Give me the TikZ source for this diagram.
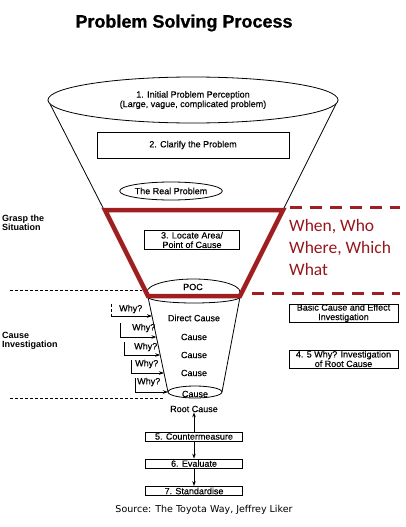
\documentclass[tikz,border=0pt]{standalone}
\usepackage{fontspec}
\setmainfont{Liberation Sans}
\newfontfamily\sm[FakeBold=0.35]{Liberation Sans}
\newfontfamily\titlefont[BoldFeatures={FakeBold=0.8}]{Liberation Sans}
\newfontfamily\calib{Carlito}
\newfontfamily\dejav{DejaVu Sans}
\usetikzlibrary{shapes.geometric,arrows.meta,calc}
\definecolor{dred}{RGB}{158,30,34}
\definecolor{tred}{RGB}{150,22,28}
\tikzset{
  small/.style={font=\sm\fontsize{9}{9.5}\selectfont, inner sep=0pt, align=center},
  thinline/.style={draw=black, line width=0.8pt},
  boxnode/.style={small, thinline, fill=white},
  ellnode/.style={small, thinline, ellipse, fill=white},
  redline/.style={draw=dred, line width=4.5pt, line join=miter},
  reddash/.style={draw=dred, line width=3pt, dash pattern=on 12pt off 8pt},
  blackdash/.style={draw=black, line width=0.8pt, dash pattern=on 3pt off 2pt},
  arr/.style={thinline, -{Stealth[length=5pt,width=3.5pt]}},
  sidelabel/.style={font=\fontsize{9}{9.5}\selectfont\bfseries, align=left, anchor=west, inner sep=0pt},
  whylabel/.style={font=\sm\fontsize{9}{9}\selectfont, anchor=west, inner sep=0pt}
}
\begin{document}
\begin{tikzpicture}[x=1pt,y=-1pt]
\useasboundingbox (0,0) rectangle (405,527);
% title
\node[font=\titlefont\fontsize{18}{20}\selectfont\bfseries, inner sep=0pt] (title) at (184,23) {Problem Solving Process};
% cone coordinates
\coordinate (ul) at (48,100);
\coordinate (ur) at (338,100);
\coordinate (rtl) at (105,210);
\coordinate (rtr) at (283,210);
\coordinate (rbl) at (148,296);
\coordinate (rbr) at (240,296);
\coordinate (cl1) at (148,297);
\coordinate (cr1) at (240,297);
\coordinate (cl2) at (168,392);
\coordinate (cr2) at (222,392);
% upper cone
\draw[thinline] (ul) -- (rbl);
\draw[thinline] (ur) -- (rbr);
% lower cone
\draw[thinline] (148,297) arc[start angle=180, end angle=360, x radius=46, y radius=-6];
\draw[thinline] (cl1) -- (cl2);
\draw[thinline] (cr1) -- (cr2);
% top ellipse
\node[ellnode, minimum width=290pt, minimum height=46pt] (init) at (193,100) {1. Initial Problem Perception\\(Large, vague, complicated problem)};
% clarify
\node[boxnode, minimum width=192pt, minimum height=26pt] (clar) at (193,145) {2. Clarify the Problem};
% real problem
\node[ellnode, minimum width=94pt, minimum height=18pt] (real) at (171,191) {The Real Problem};
% locate
\node[boxnode, minimum width=95pt, minimum height=19pt] (loc) at (192,240) {3. Locate Area/\\Point of Cause};
% POC arc
\draw[thinline] (147,292) arc[start angle=180, end angle=0, x radius=46.5, y radius=-13];
\node[small] (poc) at (193,287) {POC};
% red trapezoid
\draw[redline] (rtl) -- (rtr) -- (rbr) -- (rbl) -- cycle;
% red dashes
\coordinate (d1a) at (290,207); \coordinate (d1b) at (400,207);
\coordinate (d2a) at (252,293); \coordinate (d2b) at (400,293);
\draw[reddash] (d1a) -- (d1b);
\draw[reddash] (d2a) -- (d2b);
\node[font=\calib\fontsize{17.5}{22}\selectfont, text=tred, align=left, anchor=west, inner sep=0pt] (www) at (289,247) {When, Who\\Where, Which\\What};
% black dashes
\coordinate (k1a) at (10,290); \coordinate (k1b) at (142,290);
\coordinate (k2a) at (10,398); \coordinate (k2b) at (165,398);
\draw[blackdash] (k1a) -- (k1b);
\draw[blackdash] (k2a) -- (k2b);
% side labels
\node[sidelabel] (grasp) at (2,223) {Grasp the\\Situation};
\node[sidelabel] (cinv) at (2,341) {Cause\\Investigation};
% causes
\node[small] (dc) at (194,318) {Direct Cause};
\node[small] (c1) at (194,337) {Cause};
\node[small] (c2) at (194,355) {Cause};
\node[small] (c3) at (194,373) {Cause};
\draw[thinline] (195,392) ellipse [x radius=27, y radius=6];
\begin{scope}
\clip (195,392) ellipse [x radius=27, y radius=6];
\node[small] (c4) at (195,394) {Cause};
\end{scope}
% why arrows
\coordinate (w1a) at (111,304); \coordinate (w1b) at (111,316);
\coordinate (w2a) at (120,323); \coordinate (w2b) at (120,337);
\coordinate (w3a) at (124,342); \coordinate (w3b) at (124,355);
\coordinate (w4a) at (131,360); \coordinate (w4b) at (131,373);
\coordinate (w5a) at (135,378); \coordinate (w5b) at (135,392);
\coordinate (e1) at ($(cl1)!0.2!(cl2)$);
\coordinate (e2) at ($(cl1)!0.42!(cl2)$);
\coordinate (e3) at ($(cl1)!0.61!(cl2)$);
\coordinate (e4) at ($(cl1)!0.8!(cl2)$);
\draw[blackdash] (w1a) -- (w1b);
\draw[arr] (w1b) -- (w1b -| e1);
\draw[arr] (w2a) -- (w2b) -- (w2b -| e2);
\draw[arr] (w3a) -- (w3b) -- (w3b -| e3);
\draw[arr] (w4a) -- (w4b) -- (w4b -| e4);
\draw[arr] (w5a) -- (w5b) -- (cl2);
\node[whylabel] (y1) at (119,309) {Why?};
\node[whylabel] (y2) at (132,328) {Why?};
\node[whylabel] (y3) at (134,347) {Why?};
\node[whylabel] (y4) at (135,364) {Why?};
\node[whylabel] (y5) at (137,382) {Why?};
% right boxes
\node[boxnode, minimum width=109pt, minimum height=18pt] (basic) at (343.5,313) {Basic Cause and Effect\\Investigation};
\node[boxnode, minimum width=109pt, minimum height=18pt] (five) at (343.5,359) {4. 5 Why? Investigation\\of Root Cause};
% bottom
\node[small] (root) at (194,409) {Root Cause};
\node[boxnode, minimum width=97pt, minimum height=9pt] (b5) at (194,436.5) {5. Countermeasure};
\node[boxnode, minimum width=97pt, minimum height=9pt] (b6) at (194,463.5) {6. Evaluate};
\node[boxnode, minimum width=97pt, minimum height=9pt] (b7) at (194,491) {7. Standardise};
\draw[arr] (b5) -- (root);
\draw[arr] (b5) -- (b6);
\draw[arr] (b6) -- (b7);
\node[font=\dejav\fontsize{9.5}{11}\selectfont, inner sep=0pt] (src) at (204,510) {Source: The Toyota Way, Jeffrey Liker};
\end{tikzpicture}
\end{document}
